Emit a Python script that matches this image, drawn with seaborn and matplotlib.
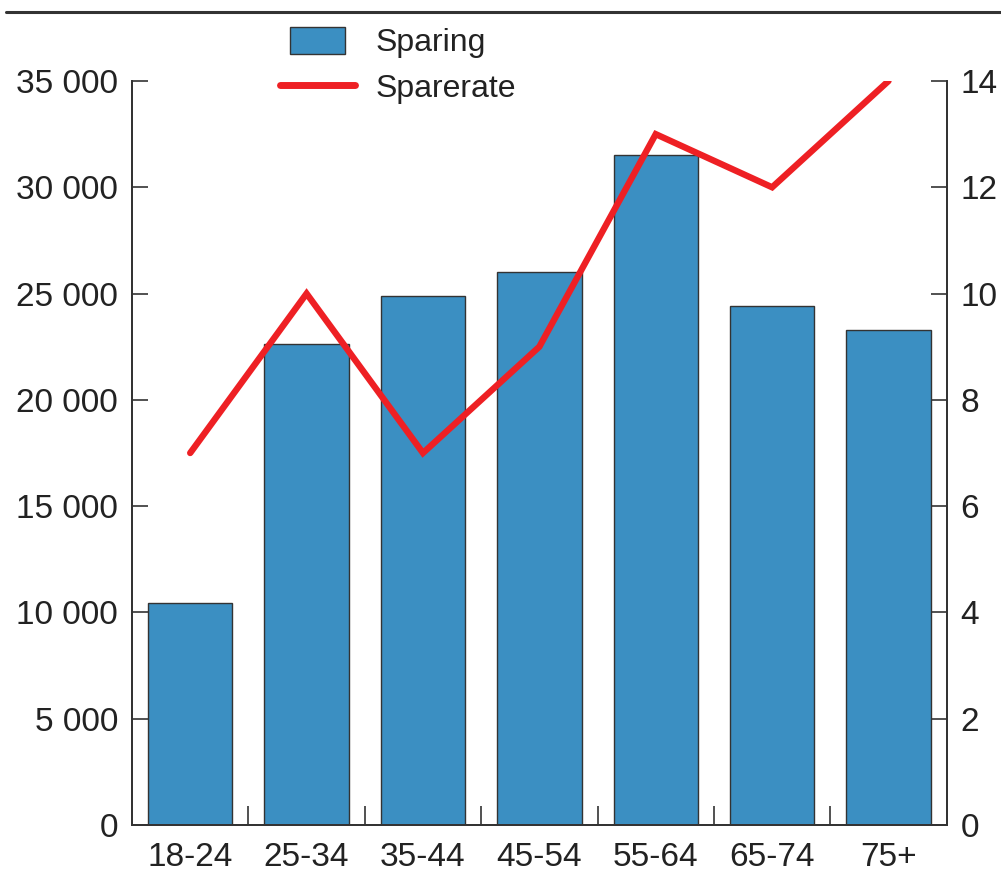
import numpy as np
import pandas as pd
import matplotlib
matplotlib.use("Agg")
import matplotlib.pyplot as plt
import seaborn as sns
from matplotlib.lines import Line2D
from matplotlib.patches import Patch, Rectangle
from matplotlib.legend_handler import HandlerPatch
from matplotlib.ticker import FuncFormatter, FixedLocator

categories = ["18-24", "25-34", "35-44", "45-54", "55-64", "65-74", "75+"]
sparing = [10450, 22650, 24900, 26000, 31500, 24400, 23300]
sparerate = [7, 10, 7, 9, 13, 12, 14]
left_ticks = [0, 5000, 10000, 15000, 20000, 25000, 30000, 35000]
right_ticks = [0, 2, 4, 6, 8, 10, 12, 14]

sns.set_theme(style="white")
plt.rcParams["font.family"] = ["Liberation Sans", "DejaVu Sans"]

BLUE = "#3B8FC2"
RED = "#EE2024"
DARK = "#333333"
FS = 24

df = pd.DataFrame({"Alder": categories, "Sparing": sparing, "Sparerate": sparerate})

fig = plt.figure(figsize=(10.01, 8.72), dpi=100)
ax = fig.add_axes([132 / 1001, 1 - 825 / 872, (946.7 - 132) / 1001, (825 - 81) / 872])

sns.barplot(data=df, x="Alder", y="Sparing", ax=ax, color=BLUE, saturation=1,
            edgecolor=DARK, linewidth=1.0, width=0.725)
ax.set_xlim(-0.5, len(categories) - 0.5)
ax.set_ylim(0, 35000)
ax.set_xlabel("")
ax.set_ylabel("")

ax2 = ax.twinx()
sns.lineplot(data=df, x="Alder", y="Sparerate", ax=ax2, color=RED, linewidth=4.6,
             sort=False, solid_capstyle="round", solid_joinstyle="miter")
ax2.set_ylim(0, 14)
ax2.set_ylabel("")
ax2.set_xlabel("")
ax.set_xlim(-0.5, len(categories) - 0.5)

for a in (ax, ax2):
    for s in a.spines.values():
        s.set_color(DARK)
        s.set_linewidth(1.3)
    a.spines["top"].set_visible(False)
    a.grid(False)

ax.yaxis.set_major_locator(FixedLocator(left_ticks))
ax.yaxis.set_major_formatter(FuncFormatter(lambda v, p: f"{int(v):,}".replace(",", " ")))
ax.tick_params(axis="y", direction="in", length=11.5, width=1.2, color=DARK,
               labelsize=FS, pad=10, labelcolor="#222222", left=True, right=False)
ax2.yaxis.set_major_locator(FixedLocator(right_ticks))
ax2.tick_params(axis="y", direction="in", length=11.5, width=1.2, color=DARK,
                labelsize=FS, pad=10, labelcolor="#222222", right=True, left=False)

ax.set_xticks(range(len(categories)))
ax.set_xticklabels(categories)
ax.set_xticks(np.arange(0.5, len(categories) - 1, 1.0), minor=True)
ax.tick_params(axis="x", which="major", length=0, labelsize=FS, pad=12, labelcolor="#222222")
ax.tick_params(axis="x", which="minor", direction="in", length=13.5, width=1.2,
               color=DARK, bottom=True)

# legend
class HandlerNarrowPatch(HandlerPatch):
    def create_artists(self, legend, orig_handle, xdescent, ydescent, width, height, fontsize, trans):
        w = width * 0.74
        x0 = -xdescent + (width - w) / 2
        h = height
        r = Rectangle((x0, -ydescent), w, h, facecolor=BLUE, edgecolor=DARK, lw=1.0,
                      transform=trans)
        return [r]

handles = [Patch(facecolor=BLUE, edgecolor=DARK, linewidth=1.0),
           Line2D([0], [0], color=RED, lw=5, solid_capstyle="round")]
leg = fig.legend(handles, ["Sparing", "Sparerate"], loc="upper left",
                 bbox_to_anchor=(280 / 1001, 1 - 27 / 872), frameon=False,
                 fontsize=23, handlelength=2.35, handleheight=0.9, handletextpad=0.65,
                 labelspacing=0.45, borderpad=0, borderaxespad=0,
                 handler_map={Patch: HandlerNarrowPatch()})
for t in leg.get_texts():
    t.set_color("#222222")

fig.add_artist(Line2D([6 / 1001, 1.0], [1 - 12 / 872] * 2, transform=fig.transFigure,
                      color=DARK, lw=2.2))

fig.savefig("out.png", dpi=100)
